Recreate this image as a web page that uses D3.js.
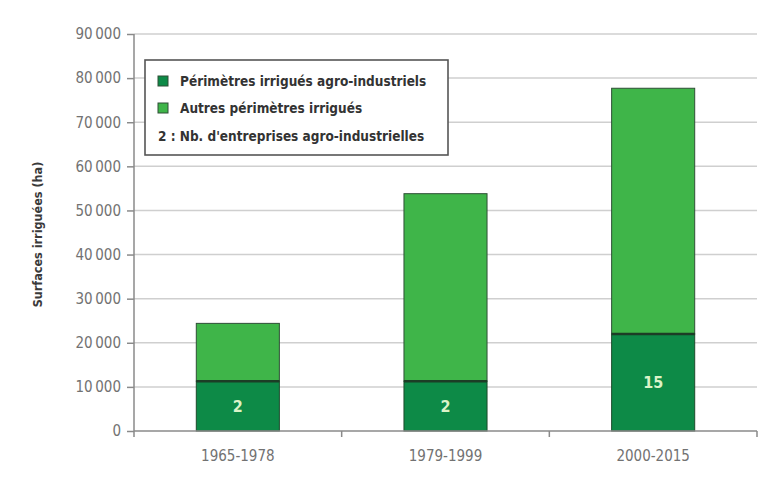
<!DOCTYPE html>
<html><head><meta charset="utf-8">
<script src="https://cdn.jsdelivr.net/npm/d3@7"></script>
<style>
body{margin:0;background:#fff;}
text{font-family:"Liberation Sans Narrow","DejaVu Sans Condensed","Roboto Condensed",sans-serif;}
</style></head>
<body><svg id="c" width="774" height="480"></svg>
<script>
const categories = ["1965-1978", "1979-1999", "2000-2015"];
const agroIndustriels = [11300, 11300, 22000];
const autres = [13100, 42500, 55700];
const nbEntreprises = [2, 2, 15];
const yTicks = [0, 10000, 20000, 30000, 40000, 50000, 60000, 70000, 80000, 90000];
const legendLabels = ["Périmètres irrigués agro-industriels", "Autres périmètres irrigués", "2 : Nb. d'entreprises agro-industrielles"];
const yTitle = "Surfaces irriguées (ha)";

const darkGreen = "#0d8a47", lightGreen = "#3fb549";
const svg = d3.select("#c");
const L = 134, R = 757, T = 34, B = 431;

const x = d3.scaleBand().domain(categories).range([L, R]).padding(0);
const y = d3.scaleLinear().domain([0, 90000]).range([B, T]);
const fmt = v => d3.format(",")(v).replace(/,/g, "\u2009");

// gridlines
svg.append("g").selectAll("line").data(yTicks.filter(d => d > 0)).join("line")
  .attr("x1", L).attr("x2", R).attr("y1", d => y(d)).attr("y2", d => y(d))
  .attr("stroke", "#cfcfcf").attr("stroke-width", 1.5);

// y axis
const ya = svg.append("g").attr("transform", `translate(${L},0)`)
  .call(d3.axisLeft(y).tickValues(yTicks).tickSize(7).tickPadding(6).tickFormat(fmt));
ya.select(".domain").attr("stroke", "#8a8a8a").attr("stroke-width", 1.5).attr("d", `M0,${T}V${B + 6}`);
ya.selectAll(".tick line").attr("stroke", "#8a8a8a").attr("stroke-width", 1.5);
ya.selectAll(".tick text").attr("fill", "#727272").attr("font-size", 15).style("font-family", '"Liberation Sans Narrow","DejaVu Sans Condensed",sans-serif');

// bars
const data = categories.map((c, i) => ({c, a: agroIndustriels[i], o: autres[i], n: nbEntreprises[i]}));
const bw = x.bandwidth() * 0.4;
const bx = d => x(d.c) + (x.bandwidth() - bw) / 2;
const g = svg.append("g");
g.selectAll(".o").data(data).join("rect")
  .attr("x", bx).attr("width", bw)
  .attr("y", d => y(d.a + d.o)).attr("height", d => y(d.a) - y(d.a + d.o))
  .attr("fill", lightGreen).attr("stroke", "#2f4f36").attr("stroke-width", 1);
g.selectAll(".a").data(data).join("rect")
  .attr("x", bx).attr("width", bw)
  .attr("y", d => y(d.a)).attr("height", d => y(0) - y(d.a))
  .attr("fill", darkGreen).attr("stroke", "#1d4a2c").attr("stroke-width", 1);
g.selectAll(".sep").data(data).join("line")
  .attr("x1", bx).attr("x2", d => bx(d) + bw).attr("y1", d => y(d.a)).attr("y2", d => y(d.a))
  .attr("stroke", "#1c3d26").attr("stroke-width", 2.5);
g.selectAll(".n").data(data).join("text")
  .attr("x", d => x(d.c) + x.bandwidth() / 2).attr("y", d => (y(0) + y(d.a)) / 2)
  .attr("dy", "0.36em").attr("text-anchor", "middle")
  .attr("fill", "#dcf3c8").attr("font-weight", "bold").attr("font-size", 16)
  .text(d => d.n);

// x axis
const xa = svg.append("g").attr("transform", `translate(0,${B})`)
  .call(d3.axisBottom(x).tickSize(0).tickPadding(19));
xa.select(".domain").attr("stroke", "#8a8a8a").attr("stroke-width", 1.5).attr("d", `M${L},0H${R}`);
xa.selectAll(".tick text").attr("fill", "#727272").attr("font-size", 15);
svg.append("g").selectAll("line").data(categories).join("line")
  .attr("x1", d => x(d) + x.bandwidth()).attr("x2", d => x(d) + x.bandwidth())
  .attr("y1", B).attr("y2", B + 6).attr("stroke", "#8a8a8a").attr("stroke-width", 1.5);

// y title
svg.append("text").attr("transform", `translate(42,${(T + B) / 2 + 2}) rotate(-90)`)
  .attr("text-anchor", "middle").attr("font-weight", "bold").attr("font-size", 12.5)
  .attr("fill", "#3a3a3a").text(yTitle);

// legend
const lg = svg.append("g");
lg.append("rect").attr("x", 145).attr("y", 60).attr("width", 303).attr("height", 95)
  .attr("fill", "#fff").attr("stroke", "#555").attr("stroke-width", 1.6);
const rows = [81, 108, 136];
const swatches = [darkGreen, lightGreen];
lg.selectAll(".sw").data(swatches).join("rect")
  .attr("x", 158).attr("y", (d, i) => rows[i] - 5).attr("width", 10).attr("height", 10)
  .attr("fill", d => d).attr("stroke", "#2f4f36").attr("stroke-width", 1);
lg.selectAll(".lt").data(legendLabels).join("text")
  .attr("x", (d, i) => i < 2 ? 180 : 158).attr("y", (d, i) => rows[i]).attr("dy", "0.36em")
  .attr("font-weight", "bold").attr("font-size", 13.5).attr("fill", "#333")
  .text(d => d);
</script></body></html>
